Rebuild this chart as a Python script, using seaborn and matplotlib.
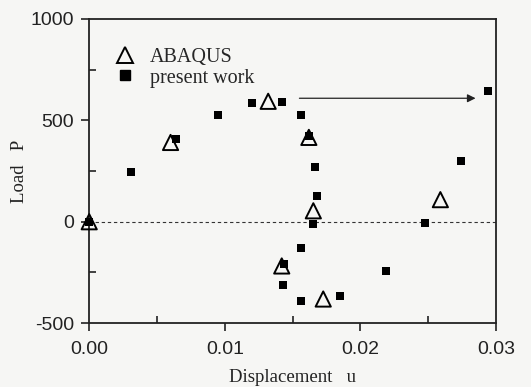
import numpy as np
import pandas as pd
import matplotlib
matplotlib.use("Agg")
import matplotlib.pyplot as plt
import seaborn as sns
from matplotlib.lines import Line2D

# ABAQUS results (open triangles)
abaqus_u = [0.0, 0.0060, 0.0132, 0.0162, 0.01653, 0.0142, 0.01726, 0.0259]
abaqus_p = [0, 391, 594, 416, 54, -218, -381, 109]

# present work (filled squares)
present_u = [0.0, 0.0031, 0.0064, 0.0095, 0.0120, 0.0142, 0.0156, 0.0162,
             0.01666, 0.0168, 0.0165, 0.0156, 0.01437, 0.0143, 0.01563,
             0.0185, 0.0219, 0.0248, 0.0274, 0.0294]
present_p = [0, 243, 406, 525, 584, 589, 525, 425,
             272, 129, -12, -129, -208, -312, -391,
             -366, -243, -5, 302, 643]

# arrow (snap-through jump)
arrow_u = [0.0153, 0.0287]
arrow_p = 609

df_a = pd.DataFrame({"u": abaqus_u, "P": abaqus_p})
df_p = pd.DataFrame({"u": present_u, "P": present_p})

sns.set_style("ticks")
plt.rcParams["font.family"] = ["Liberation Sans", "DejaVu Sans"]
plt.rcParams["axes.unicode_minus"] = False
serif = ["Liberation Serif", "DejaVu Serif"]
bg = "#f6f6f4"

fig = plt.figure(figsize=(5.31, 3.87), dpi=100, facecolor=bg)
ax = fig.add_axes([0.168, 0.165, 0.766, 0.786], facecolor=bg)

ax.axhline(0, color="#333333", lw=0.8, ls=(0, (3, 2.5)), zorder=1)

sns.scatterplot(data=df_a, x="u", y="P", ax=ax, marker="^", s=120,
                facecolor="none", edgecolor="black", linewidth=1.4, zorder=3,
                clip_on=False)
sns.scatterplot(data=df_p, x="u", y="P", ax=ax, marker="s", s=40,
                color="black", edgecolor="black", linewidth=0, zorder=4,
                clip_on=False)

ax.annotate("", xy=(arrow_u[1], arrow_p), xytext=(arrow_u[0], arrow_p),
            arrowprops=dict(arrowstyle="-|>", color="#222222", lw=0.9,
                            mutation_scale=12))

ax.set_xlim(0, 0.03)
ax.set_ylim(-500, 1000)
ax.set_xticks([0, 0.01, 0.02, 0.03])
ax.set_xticklabels(["0.00", "0.01", "0.02", "0.03"])
ax.set_xticks([0.005, 0.015, 0.025], minor=True)
ax.set_yticks([-500, 0, 500, 1000])
ax.set_yticks([-250, 250, 750], minor=True)
ax.tick_params(which="major", direction="out", length=6, width=1.2,
               labelsize=14, colors="#222222")
ax.tick_params(axis="x", which="major", pad=7)
ax.tick_params(axis="y", which="major", pad=5)
ax.tick_params(which="minor", direction="in", length=5, width=1.2,
               colors="#222222")
for sp in ax.spines.values():
    sp.set_linewidth(1.3)
    sp.set_color("#222222")

ax.set_xlabel("Displacement   u", family=serif, fontsize=13.5, color="#222222",
              labelpad=8)
ax.set_ylabel("Load   P", family=serif, fontsize=13.5, color="#222222",
              labelpad=2)

handles = [
    Line2D([], [], marker="^", ls="none", markersize=11.5, markerfacecolor="none",
           markeredgecolor="black", markeredgewidth=1.4),
    Line2D([], [], marker="s", ls="none", markersize=6.5, color="black"),
]
leg = ax.legend(handles, ["ABAQUS", "present work"], loc="upper left",
                bbox_to_anchor=(-0.005, 0.965), frameon=False, handletextpad=0.2,
                labelspacing=0.08, prop={"family": serif, "size": 14.5})

fig.savefig("out.png", dpi=100, facecolor=bg)
